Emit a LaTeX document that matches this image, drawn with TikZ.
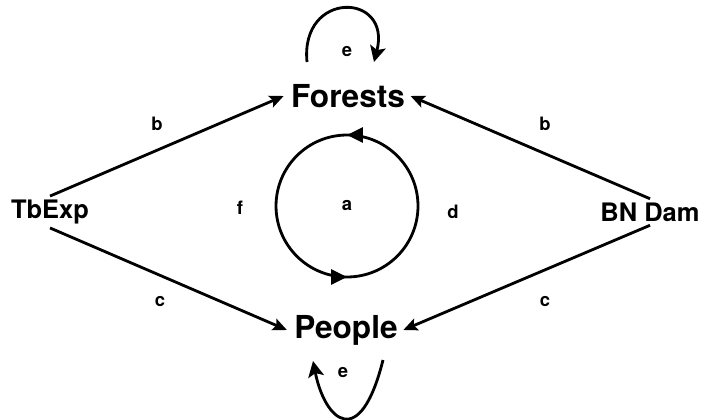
\documentclass[tikz,border=0pt]{standalone}
\usepackage{fontspec}
\setmainfont{TeX Gyre Heros}
\usetikzlibrary{arrows.meta,decorations.markings,calc}

\begin{document}
\begin{tikzpicture}[
  x=0.02cm, y=-0.02cm,
  big/.style={font=\bfseries\fontsize{18}{20}\selectfont, inner sep=2pt},
  side/.style={font=\bfseries\fontsize{14.5}{16}\selectfont, inner sep=2pt},
  lbl/.style={font=\bfseries\fontsize{10.5}{12}\selectfont, inner sep=1pt},
  arrow/.style={-{Stealth[length=8pt, width=7pt, inset=1.5pt]}, line width=1.6pt},
  loopy/.style={-{Stealth[length=9pt, width=9pt, inset=2pt]}, line width=1.6pt},
  cycle/.style={line width=1.6pt, postaction={decorate}, decoration={markings,
    mark=at position 0.25 with {\arrow{Triangle[length=9pt, width=8.5pt]}},
    mark=at position 0.75 with {\arrow{Triangle[length=9pt, width=8.5pt]}}}}
]
  \useasboundingbox (0,0) rectangle (702,419);
  \node[big] (forests) at (348,96) {Forests};
  \node[big] (people) at (346,330) {People};
  \node[side] (tbexp) at (50,212) {TbExp};
  \node[side] (bndam) at (650,212) {BN Dam};
  \coordinate (centre) at (347,206);
  \node[lbl] (a) at (centre) {a};
  \node[lbl] (f) at (240,208) {f};
  \node[lbl] (d) at (453,212) {d};
  \draw[cycle] (centre) circle[radius=1.42cm];
  % outside drivers
  \draw[arrow] (tbexp.north) -- ([xshift=-2pt]forests.west);
  \draw[arrow] (tbexp.south) -- ([xshift=-2pt]people.west);
  \draw[arrow] (bndam.north) -- ([xshift=1pt]forests.east);
  \draw[arrow] (bndam.south) -- ([xshift=1pt]people.east);
  \node[lbl] (b1) at (157,124) {b};
  \node[lbl] (c1) at (160,302) {c};
  \node[lbl] (b2) at (545,124) {b};
  \node[lbl] (c2) at (545,302) {c};
  % self loops
  \node[lbl] (e1) at (347,52) {e};
  \draw[loopy] ([shift={(-41,-34)}]forests.center) .. controls +(-7,-72) and +(18,-70) .. ([shift={(26,-34)}]forests.center);
  \node[lbl] (e2) at (343,373) {e};
  \draw[loopy] ([shift={(37,30)}]people.center) .. controls +(-23,92) and +(12,60) .. ([shift={(-33,31)}]people.center);
\end{tikzpicture}
\end{document}
